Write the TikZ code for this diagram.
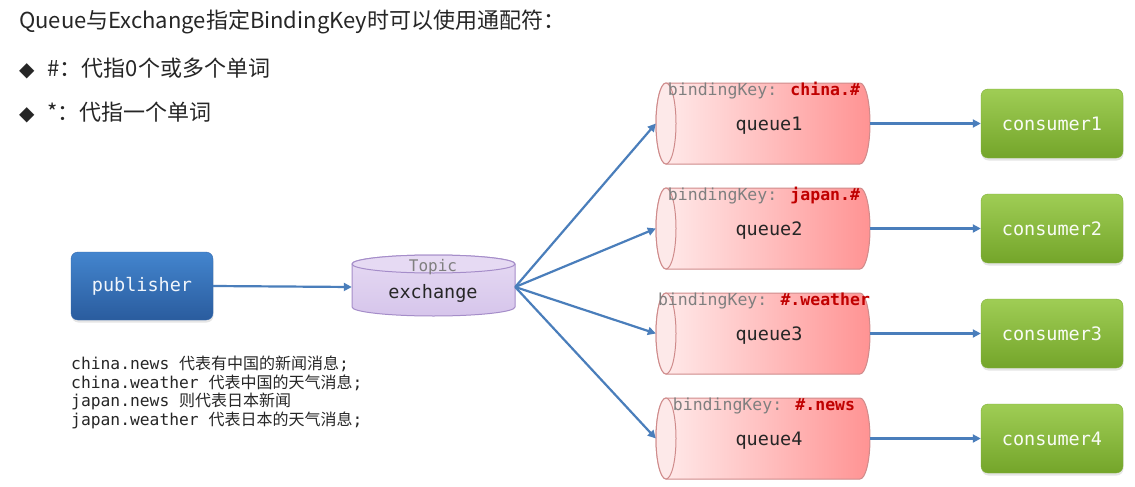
\documentclass[tikz,border=0pt]{standalone}
\usepackage{fontspec}
\newfontfamily\cjk{Noto Sans CJK SC}
\newfontfamily\mono{DejaVu Sans Mono}
\newfontfamily\sym{DejaVu Sans}
\usetikzlibrary{arrows.meta,shadows}

\definecolor{flowblue}{HTML}{4A7EBB}
\definecolor{pubtop}{HTML}{4385CE}
\definecolor{pubbot}{HTML}{2A5C9E}
\definecolor{pubedge}{HTML}{3468AE}
\definecolor{contop}{HTML}{9FCD55}
\definecolor{conbot}{HTML}{74A52A}
\definecolor{conedge}{HTML}{7FAF36}
\definecolor{qleft}{HTML}{FFEDED}
\definecolor{qright}{HTML}{FF9393}
\definecolor{qedge}{HTML}{CF8B8B}
\definecolor{qcapfill}{HTML}{FDE9E9}
\definecolor{extop}{HTML}{E6DAF3}
\definecolor{exbot}{HTML}{D6C5EB}
\definecolor{exedge}{HTML}{A58DC9}
\definecolor{keyred}{HTML}{C00000}
\definecolor{keygrey}{HTML}{7F7F7F}
\definecolor{darktext}{HTML}{262626}

% horizontal queue cylinder: #1 name, #2 centre y, #3 binding key, #4 label
\newcommand\queuecyl[4]{%
  \path[qbody] (666,#2-40.5) -- (860,#2-40.5)
    arc[start angle=-90,end angle=90,x radius=10,y radius=40.5]
    -- (666,#2+40.5)
    arc[start angle=90,end angle=270,x radius=10,y radius=40.5] -- cycle;
  \path[qcap] (666,#2) ellipse[x radius=10,y radius=40.5];
  \node[qframe] (#1) at (763,#2) {};
  \node[qlabel] (#1txt) at (769,#2+2) {#4};
  \node[qkey] (#1key) at (764,#2-32.5) {bindingKey: \textcolor{keyred}{\bfseries #3}};
}

\begin{document}
\begin{tikzpicture}[x=1pt,y=-1pt,
  flow/.style={draw=flowblue,line width=2.2pt,-{Triangle[length=8pt,width=8pt]}},
  softshadow/.style={drop shadow={opacity=0.2,shadow xshift=0.5pt,shadow yshift=-2.5pt}},
  pubbox/.style={rounded corners=7pt,top color=pubtop,bottom color=pubbot,draw=pubedge,
    minimum width=142pt,minimum height=68pt,inner sep=0pt,softshadow,
    text=white!92!pubtop,font=\mono\fontsize{18.5}{22}\selectfont},
  conbox/.style={rounded corners=7pt,top color=contop,bottom color=conbot,draw=conedge,
    minimum width=142pt,minimum height=69pt,inner sep=0pt,softshadow,
    text=white!94!contop,font=\mono\fontsize{18.5}{22}\selectfont},
  qbody/.style={left color=qleft,right color=qright,draw=qedge,line width=1pt},
  qcap/.style={fill=qcapfill,draw=qedge,line width=1pt},
  qframe/.style={minimum width=214pt,minimum height=81pt,inner sep=0pt},
  qlabel/.style={inner sep=0pt,text=darktext,font=\mono\fontsize{18.5}{22}\selectfont},
  qkey/.style={inner sep=0pt,text=keygrey,font=\mono\fontsize{16.5}{20}\selectfont},
  exbody/.style={top color=extop,bottom color=exbot,draw=exedge,line width=1pt},
  plain/.style={inner sep=0pt,anchor=west,text=darktext},
]
\useasboundingbox (0,0) rectangle (1135,487);
\fill[white] (0,0) rectangle (1135,487);

% heading and wildcard rules
\node[plain,font=\cjk\fontsize{22}{26}\selectfont] (title) at (19,22)
  {Queue与Exchange指定BindingKey时可以使用通配符：};
\node[plain,font=\cjk\fontsize{22}{26}\selectfont] (rule1) at (19,68)
  {{\sym\fontsize{20}{24}\selectfont ◆}\hspace{13pt}\#：代指0个或多个单词};
\node[plain,font=\cjk\fontsize{22}{26}\selectfont] (rule2) at (19,112)
  {{\sym\fontsize{20}{24}\selectfont ◆}\hspace{13pt}*：代指一个单词};

% publisher
\node[pubbox] (pub) at (142,286) {publisher};

% exchange cylinder (vertical)
\path[exbody] (352,264) -- (352,307)
  arc[start angle=180,end angle=0,x radius=81.5,y radius=9]
  -- (515,264)
  arc[start angle=0,end angle=-180,x radius=81.5,y radius=9] -- cycle;
\path[draw=exedge,line width=1pt,fill=extop] (433.5,264) ellipse[x radius=81.5,y radius=9];
\node[minimum width=163pt,minimum height=61pt,inner sep=0pt] (ex) at (433.5,287) {};
\node[inner sep=0pt,text=keygrey,font=\mono\fontsize{16}{19}\selectfont] (extopic) at (433,267) {Topic};
\node[inner sep=0pt,text=darktext,font=\mono\fontsize{18.5}{22}\selectfont] (exname) at (433,293) {exchange};

% routing keys
\node[plain,align=left,font=\mono\fontsize{16.3}{18.5}\selectfont] (notes) at (71,392.5)
  {china.news {\cjk\fontsize{16}{18.5}\selectfont 代表有中国的新闻消息};\\
   china.weather {\cjk\fontsize{16}{18.5}\selectfont 代表中国的天气消息};\\
   japan.news {\cjk\fontsize{16}{18.5}\selectfont 则代表日本新闻}\\
   japan.weather {\cjk\fontsize{16}{18.5}\selectfont 代表日本的天气消息};};

% queues
\queuecyl{q1}{123.5}{china.\#}{queue1}
\queuecyl{q2}{228.5}{japan.\#}{queue2}
\queuecyl{q3}{333.5}{\#.weather}{queue3}
\queuecyl{q4}{438.5}{\#.news}{queue4}

% consumers
\node[conbox] (c1) at (1052,123.5) {consumer1};
\node[conbox] (c2) at (1052,228.5) {consumer2};
\node[conbox] (c3) at (1052,333.5) {consumer3};
\node[conbox] (c4) at (1052,438.5) {consumer4};

% message flow
\draw[flow] (pub.east) -- (ex.west);
\draw[flow] (ex.east) -- (q1.west);
\draw[flow] (ex.east) -- (q2.west);
\draw[flow] (ex.east) -- (q3.west);
\draw[flow] (ex.east) -- (q4.west);
\draw[flow] (q1.east) -- (c1.west);
\draw[flow] (q2.east) -- (c2.west);
\draw[flow] (q3.east) -- (c3.west);
\draw[flow] (q4.east) -- (c4.west);
\end{tikzpicture}
\end{document}
